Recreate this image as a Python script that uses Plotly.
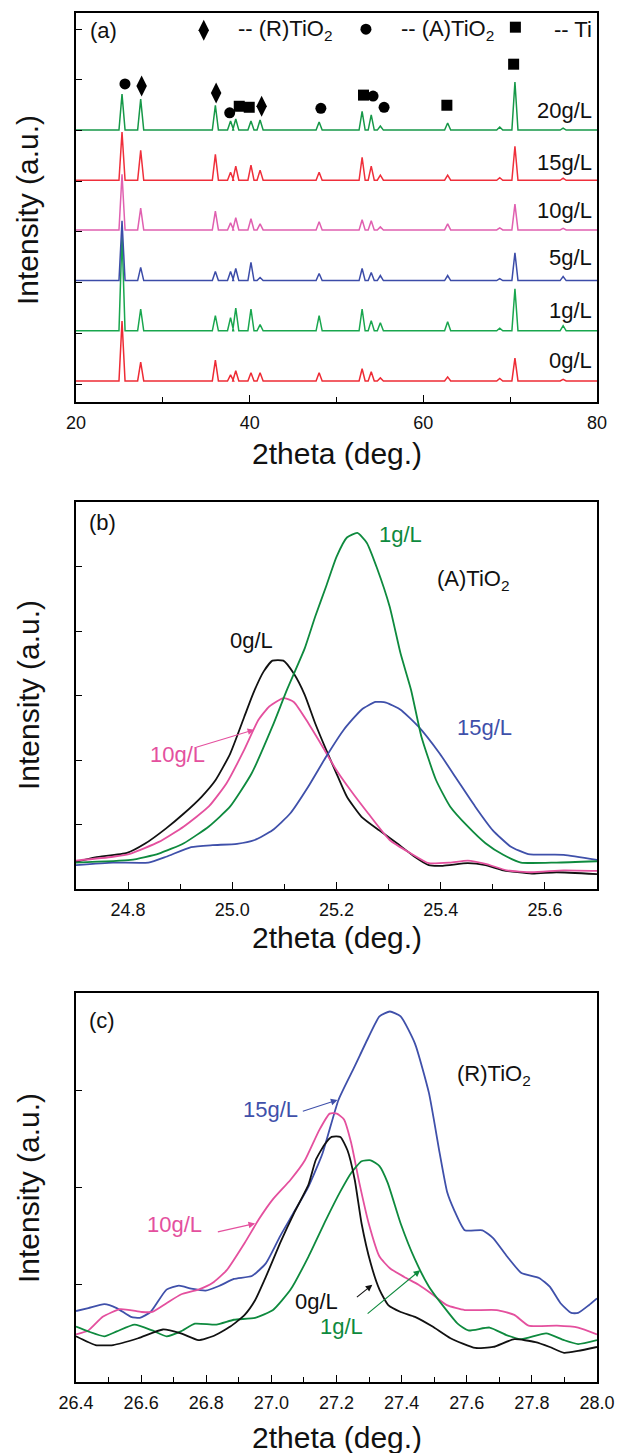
import plotly.graph_objects as go

FONT = "Liberation Sans, Arial, sans-serif"

# ---------------- Panel (a): XRD patterns (stacked) ----------------
peak_pos = [25.3, 27.45, 36.05, 37.8, 38.4, 40.15, 41.2, 48.0, 52.95, 54.0, 55.05, 62.8, 68.8, 70.55, 76.1]
samples_a = ["0g/L", "1g/L", "5g/L", "10g/L", "15g/L", "20g/L"]
baseline_a = [0.06, 1.05, 2.04, 3.04, 4.02, 5.01]
heights_0gL = [1.18, 0.37, 0.41, 0.12, 0.20, 0.16, 0.16, 0.16, 0.24, 0.18, 0.06, 0.08, 0.05, 0.45, 0.03]
heights_1gL = [1.90, 0.43, 0.30, 0.26, 0.45, 0.43, 0.12, 0.30, 0.43, 0.20, 0.16, 0.18, 0.05, 0.83, 0.10]
heights_5gL = [1.18, 0.26, 0.18, 0.18, 0.24, 0.36, 0.06, 0.14, 0.24, 0.16, 0.10, 0.10, 0.04, 0.55, 0.08]
heights_10gL = [1.10, 0.43, 0.37, 0.14, 0.24, 0.22, 0.12, 0.16, 0.20, 0.18, 0.06, 0.12, 0.04, 0.51, 0.03]
heights_15gL = [0.95, 0.59, 0.51, 0.16, 0.28, 0.30, 0.20, 0.16, 0.45, 0.28, 0.10, 0.10, 0.05, 0.67, 0.04]
heights_20gL = [0.71, 0.61, 0.49, 0.18, 0.22, 0.18, 0.20, 0.16, 0.37, 0.30, 0.08, 0.14, 0.06, 0.95, 0.04]
heights_a = [heights_0gL, heights_1gL, heights_5gL, heights_10gL, heights_15gL, heights_20gL]
colors_a = ["#ee2b35", "#19a64e", "#3c4ca8", "#e060b0", "#ef2f3b", "#169848"]
label_y_a = [0.47, 1.46, 2.49, 3.43, 4.38, 5.40]

rutile_x = [27.56, 36.14, 41.38]
rutile_y = [5.88, 5.74, 5.48]
anatase_x = [25.64, 37.70, 48.20, 54.21, 55.48]
anatase_y = [5.92, 5.35, 5.44, 5.68, 5.46]
ti_x = [38.80, 39.95, 53.11, 62.71, 70.40]
ti_y = [5.48, 5.46, 5.70, 5.50, 6.31]

# ---------------- Panel (b): (A)TiO2 peak ----------------
b_x_0gL = [24.70, 24.737, 24.798, 24.832, 24.873, 24.907, 24.941, 24.968, 24.996, 25.023, 25.040, 25.060, 25.077,
           25.098, 25.118, 25.139, 25.159, 25.180, 25.200, 25.220, 25.248, 25.282, 25.316, 25.350, 25.377, 25.404,
           25.452, 25.486, 25.520, 25.575, 25.622, 25.70]
b_y_0gL = [0.42, 0.49, 0.56, 0.70, 0.94, 1.17, 1.43, 1.69, 2.10, 2.67, 3.03, 3.37, 3.54,
           3.54, 3.34, 3.01, 2.57, 2.16, 1.79, 1.43, 1.12, 0.91, 0.71, 0.50, 0.37, 0.36,
           0.40, 0.37, 0.29, 0.24, 0.26, 0.23]
b_x_1gL = [24.70, 24.805, 24.859, 24.907, 24.955, 24.996, 25.037, 25.077, 25.105, 25.139, 25.159, 25.180, 25.200,
           25.220, 25.240, 25.258, 25.278, 25.302, 25.323, 25.343, 25.363, 25.391, 25.418, 25.452, 25.486, 25.520,
           25.554, 25.622, 25.70]
b_y_1gL = [0.41, 0.45, 0.55, 0.71, 0.97, 1.28, 1.79, 2.52, 3.09, 3.73, 4.22, 4.69, 5.15,
           5.45, 5.52, 5.37, 4.97, 4.38, 3.65, 3.09, 2.36, 1.69, 1.28, 0.97, 0.71, 0.53,
           0.41, 0.41, 0.43]
b_x_10gL = [24.70, 24.771, 24.805, 24.859, 24.907, 24.955, 24.989, 25.023, 25.050, 25.071, 25.098, 25.118, 25.146,
            25.173, 25.200, 25.227, 25.261, 25.302, 25.343, 25.377, 25.418, 25.452, 25.486, 25.527, 25.575, 25.636,
            25.70]
b_y_10gL = [0.44, 0.50, 0.55, 0.73, 0.97, 1.28, 1.64, 2.16, 2.62, 2.83, 2.96, 2.90, 2.57,
            2.21, 1.84, 1.53, 1.17, 0.76, 0.55, 0.40, 0.41, 0.44, 0.39, 0.29, 0.26, 0.29,
            0.28]
b_x_15gL = [24.70, 24.771, 24.839, 24.873, 24.921, 24.962, 25.009, 25.043, 25.077, 25.111, 25.146, 25.180, 25.214,
            25.248, 25.275, 25.295, 25.323, 25.357, 25.398, 25.432, 25.466, 25.500, 25.534, 25.568, 25.636, 25.70]
b_y_15gL = [0.37, 0.41, 0.41, 0.50, 0.65, 0.68, 0.70, 0.76, 0.91, 1.17, 1.59, 2.05, 2.47,
            2.78, 2.90, 2.89, 2.78, 2.52, 2.10, 1.69, 1.28, 0.91, 0.66, 0.54, 0.53, 0.45]

# ---------------- Panel (c): (R)TiO2 peak ----------------
c_x_0gL = [26.40, 26.460, 26.514, 26.591, 26.667, 26.722, 26.776, 26.820, 26.874, 26.918, 26.950, 26.983, 27.027,
           27.070, 27.114, 27.136, 27.163, 27.185, 27.212, 27.234, 27.256, 27.277, 27.305, 27.332, 27.359, 27.397,
           27.441, 27.495, 27.550, 27.626, 27.681, 27.746, 27.811, 27.855, 27.899, 27.942, 28.00]
c_y_0gL = [0.47, 0.38, 0.38, 0.45, 0.54, 0.50, 0.43, 0.47, 0.57, 0.69, 0.84, 1.08, 1.43,
           1.74, 2.03, 2.28, 2.44, 2.52, 2.52, 2.38, 2.08, 1.63, 1.22, 0.95, 0.79, 0.72,
           0.67, 0.57, 0.45, 0.35, 0.36, 0.44, 0.41, 0.36, 0.30, 0.32, 0.36]
c_x_1gL = [26.40, 26.438, 26.487, 26.525, 26.580, 26.634, 26.678, 26.722, 26.765, 26.831, 26.885, 26.950, 27.005,
           27.059, 27.114, 27.168, 27.212, 27.245, 27.277, 27.305, 27.332, 27.357, 27.397, 27.441, 27.484, 27.528,
           27.572, 27.605, 27.670, 27.724, 27.768, 27.844, 27.899, 27.942, 28.00]
c_y_1gL = [0.57, 0.52, 0.47, 0.52, 0.59, 0.53, 0.47, 0.52, 0.60, 0.59, 0.64, 0.66, 0.74,
           0.95, 1.29, 1.67, 1.96, 2.15, 2.27, 2.28, 2.22, 2.05, 1.63, 1.26, 0.98, 0.78,
           0.60, 0.53, 0.56, 0.48, 0.44, 0.50, 0.43, 0.39, 0.43]
c_x_10gL = [26.40, 26.438, 26.482, 26.536, 26.602, 26.634, 26.678, 26.722, 26.776, 26.820, 26.863, 26.918, 26.961,
            27.005, 27.059, 27.103, 27.147, 27.179, 27.201, 27.223, 27.245, 27.270, 27.299, 27.332, 27.364, 27.408,
            27.452, 27.495, 27.539, 27.594, 27.692, 27.746, 27.790, 27.877, 27.942, 28.00]
c_y_10gL = [0.49, 0.53, 0.67, 0.75, 0.72, 0.72, 0.81, 0.90, 0.95, 1.02, 1.15, 1.43, 1.67,
            1.88, 2.08, 2.28, 2.59, 2.76, 2.76, 2.70, 2.46, 2.05, 1.63, 1.29, 1.17, 1.08,
            1.00, 0.90, 0.79, 0.74, 0.74, 0.69, 0.58, 0.58, 0.56, 0.49]
c_x_15gL = [26.40, 26.438, 26.487, 26.525, 26.569, 26.596, 26.629, 26.678, 26.716, 26.754, 26.798, 26.841, 26.885,
            26.940, 26.983, 27.027, 27.070, 27.114, 27.157, 27.206, 27.255, 27.299, 27.332, 27.364, 27.397, 27.441,
            27.484, 27.517, 27.540, 27.561, 27.594, 27.648, 27.681, 27.724, 27.768, 27.822, 27.855, 27.888, 27.921,
            27.942, 27.975, 28.00]
c_y_15gL = [0.73, 0.76, 0.80, 0.76, 0.67, 0.66, 0.72, 0.95, 0.99, 0.96, 0.94, 0.99, 1.06,
            1.09, 1.22, 1.50, 1.75, 2.01, 2.35, 2.90, 3.24, 3.55, 3.76, 3.81, 3.76, 3.48,
            2.97, 2.35, 1.95, 1.77, 1.56, 1.56, 1.48, 1.29, 1.12, 1.07, 0.98, 0.81, 0.71,
            0.71, 0.79, 0.86]

COL_BLACK = "#111111"
COL_GREEN = "#0e8a3e"
COL_PINK = "#e4509e"
COL_BLUE = "#3f50aa"

W, H = 617, 1453
XD = [76 / W, 597 / W]
YD_A = [1 - 402 / H, 1 - 13 / H]
YD_B = [1 - 889 / H, 1 - 502 / H]
YD_C = [1 - 1382 / H, 1 - 993 / H]

fig = go.Figure()

# Panel (a) traces
for name, base, hts, col in zip(samples_a, baseline_a, heights_a, colors_a):
    xs = [20.0]
    ys = [base]
    for p, h in zip(peak_pos, hts):
        xs += [p - 0.35, p, p + 0.35]
        ys += [base, base + h, base]
    xs.append(80.0)
    ys.append(base)
    fig.add_trace(go.Scatter(x=xs, y=ys, mode="lines", line=dict(color=col, width=1.5),
                             name=name, xaxis="x", yaxis="y", showlegend=False))

MK = dict(color="black")
fig.add_trace(go.Scatter(x=rutile_x + [34.71], y=rutile_y + [6.98], mode="markers",
                         marker=dict(symbol="diamond-tall", size=15, **MK), xaxis="x", yaxis="y", showlegend=False))
fig.add_trace(go.Scatter(x=anatase_x + [53.39], y=anatase_y + [7.00], mode="markers",
                         marker=dict(symbol="circle", size=11, **MK), xaxis="x", yaxis="y", showlegend=False))
fig.add_trace(go.Scatter(x=ti_x + [70.6], y=ti_y + [7.04], mode="markers",
                         marker=dict(symbol="square", size=11, **MK), xaxis="x", yaxis="y", showlegend=False))

# Panel (b)
for xs, ys, col in [(b_x_0gL, b_y_0gL, COL_BLACK), (b_x_10gL, b_y_10gL, COL_PINK),
                    (b_x_15gL, b_y_15gL, COL_BLUE), (b_x_1gL, b_y_1gL, COL_GREEN)]:
    fig.add_trace(go.Scatter(x=xs, y=ys, mode="lines", line=dict(color=col, width=1.8, shape="spline", smoothing=0.5),
                             xaxis="x2", yaxis="y2", showlegend=False))

# Panel (c)
for xs, ys, col in [(c_x_15gL, c_y_15gL, COL_BLUE), (c_x_10gL, c_y_10gL, COL_PINK),
                    (c_x_1gL, c_y_1gL, COL_GREEN), (c_x_0gL, c_y_0gL, COL_BLACK)]:
    fig.add_trace(go.Scatter(x=xs, y=ys, mode="lines", line=dict(color=col, width=1.8, shape="spline", smoothing=0.5),
                             xaxis="x3", yaxis="y3", showlegend=False))

common_x = dict(showline=True, mirror=True, linecolor="black", linewidth=1.5, showgrid=False, zeroline=False,
                ticks="inside", ticklen=7, tickwidth=1.3, tickcolor="black", automargin=False,
                tickfont=dict(family=FONT, size=18, color="#111"), ticklabelstandoff=4)
common_y = dict(showline=True, mirror=True, linecolor="black", linewidth=1.5, showgrid=False, zeroline=False,
                ticks="inside", ticklen=6, tickwidth=1.3, tickcolor="black", showticklabels=False, automargin=False)

fig.update_layout(
    width=W, height=H, margin=dict(l=0, r=0, t=0, b=0, pad=0), autosize=False,
    paper_bgcolor="white", plot_bgcolor="white",
    font=dict(family=FONT, color="#111"),
    xaxis=dict(domain=XD, range=[20, 80], tickvals=[20, 40, 60, 80], anchor="y",
               minor=dict(tickvals=[30, 50, 70], ticks="inside", ticklen=5, tickcolor="black"), **common_x),
    yaxis=dict(domain=YD_A, range=[-0.355, 7.32], tickvals=[0, 1, 2, 3, 4, 5, 6, 7], anchor="x", **common_y),
    xaxis2=dict(domain=XD, range=[24.7, 25.7], tickvals=[24.8, 25.0, 25.2, 25.4, 25.6],
                ticktext=["24.8", "25.0", "25.2", "25.4", "25.6"], anchor="y2",
                minor=dict(tickvals=[24.9, 25.1, 25.3, 25.5], ticks="inside", ticklen=5, tickcolor="black"), **common_x),
    yaxis2=dict(domain=YD_B, range=[0, 6], tickvals=[1, 2, 3, 4, 5], anchor="x2", **common_y),
    xaxis3=dict(domain=XD, range=[26.4, 28.0], tickvals=[26.4, 26.6, 26.8, 27.0, 27.2, 27.4, 27.6, 27.8, 28.0],
                ticktext=["26.4", "26.6", "26.8", "27.0", "27.2", "27.4", "27.6", "27.8", "28.0"], anchor="y3",
                minor=dict(tickvals=[26.5, 26.7, 26.9, 27.1, 27.3, 27.5, 27.7, 27.9], ticks="inside", ticklen=5,
                           tickcolor="black"), **common_x),
    yaxis3=dict(domain=YD_C, range=[0, 4], tickvals=[1, 2, 3], anchor="x3", **common_y),
)

ann = []
LBL = 22
TITLE = 30


def txt(x, y, t, ax, col="#111", size=LBL, xanchor="left"):
    ann.append(dict(x=x, y=y, xref="x" + ax, yref="y" + ax, text=t, showarrow=False,
                    xanchor=xanchor, yanchor="middle", font=dict(family=FONT, size=size, color=col)))


def arrow(x0, y0, x1, y1, ax, col):
    ann.append(dict(x=x1, y=y1, ax=x0, ay=y0, xref="x" + ax, yref="y" + ax, axref="x" + ax, ayref="y" + ax,
                    text="", showarrow=True, arrowhead=2, arrowsize=1.2, arrowwidth=1.1, arrowcolor=col))


# Panel (a) texts
txt(21.43, 6.98, "(a)", "")
txt(38.47, 6.98, "-- (R)TiO<sub>2</sub>", "")
txt(57.19, 6.98, "-- (A)TiO<sub>2</sub>", "")
txt(74.77, 7.0, "-- Ti", "")
for name, ly in zip(samples_a, label_y_a):
    txt(79.6, ly, name, "", xanchor="right")

# Panel (b) texts
txt(24.722, 5.69, "(b)", "2")
txt(25.278, 5.49, "1g/L", "2", COL_GREEN)
txt(25.389, 4.79, "(A)TiO<sub>2</sub>", "2")
txt(24.992, 3.86, "0g/L", "2")
txt(25.428, 2.51, "15g/L", "2", COL_BLUE)
txt(24.838, 2.08, "10g/L", "2", COL_PINK)
arrow(24.928, 2.19, 25.042, 2.47, "2", COL_PINK)

# Panel (c) texts
txt(26.433, 3.72, "(c)", "3")
txt(27.563, 3.16, "(R)TiO<sub>2</sub>", "3")
txt(26.907, 2.80, "15g/L", "3", COL_BLUE)
arrow(27.092, 2.78, 27.203, 2.90, "3", COL_BLUE)
txt(26.613, 1.62, "10g/L", "3", COL_PINK)
arrow(26.831, 1.54, 26.950, 1.63, "3", COL_PINK)
txt(27.065, 0.83, "0g/L", "3")
arrow(27.258, 0.86, 27.310, 1.00, "3", COL_BLACK)
txt(27.144, 0.57, "1g/L", "3", COL_GREEN)
arrow(27.291, 0.69, 27.457, 1.15, "3", COL_GREEN)

# Axis titles
for ypx in [453, 938, 1437]:
    ann.append(dict(x=337 / W, y=1 - ypx / H, xref="paper", yref="paper", text="2theta (deg.)", showarrow=False,
                    xanchor="center", yanchor="middle", font=dict(family=FONT, size=TITLE, color="#111")))
for ypx in [210, 695, 1188]:
    ann.append(dict(x=28 / W, y=1 - ypx / H, xref="paper", yref="paper", text="Intensity (a.u.)", showarrow=False,
                    textangle=-90, xanchor="center", yanchor="middle",
                    font=dict(family=FONT, size=TITLE, color="#111")))

fig.update_layout(annotations=ann)
fig.write_html("out.html")
